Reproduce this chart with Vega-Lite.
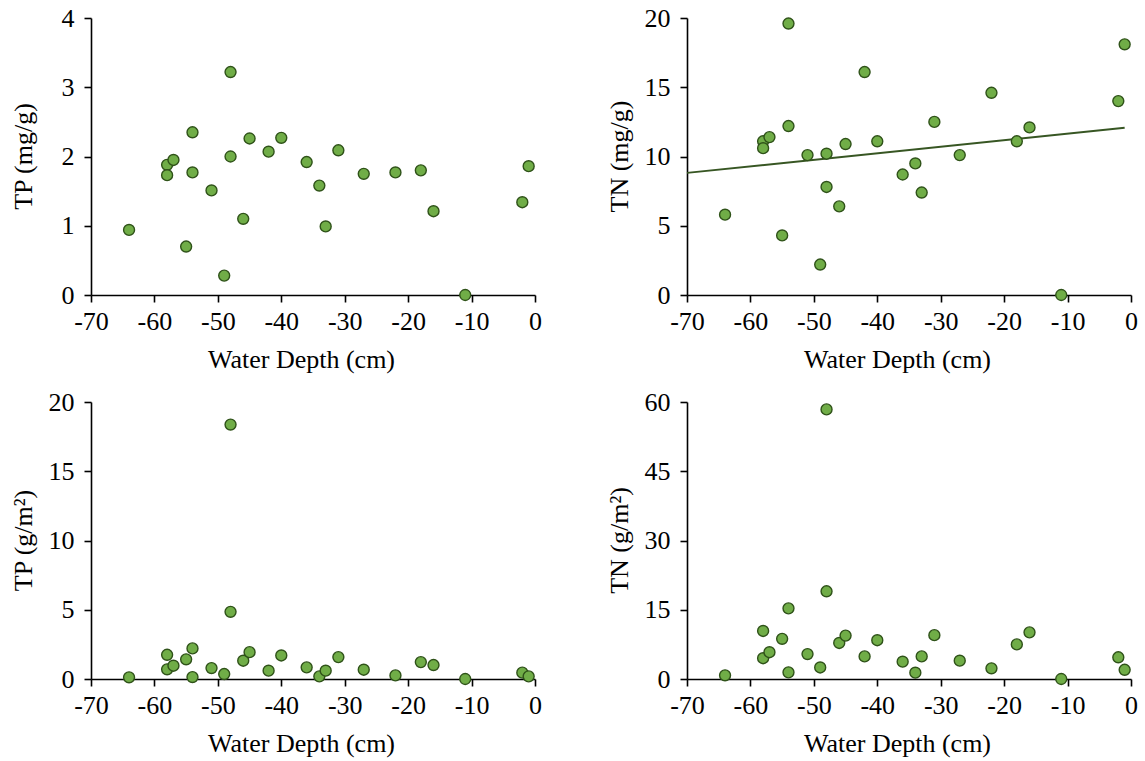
{
  "$schema": "https://vega.github.io/schema/vega-lite/v6.json",
  "background": "white",
  "padding": {"left": 10, "top": 5, "right": 10, "bottom": 5},
  "bounds": "flush",
  "columns": 2,
  "spacing": {"row": 107, "column": 152},
  "data": {"values": [
    {"depth": -64, "tp": 0.94, "tn": 5.8, "tpa": 0.12, "tna": 0.8},
    {"depth": -58, "tp": 1.88, "tn": 11.1, "tpa": 1.75, "tna": 10.4},
    {"depth": -58, "tp": 1.73, "tn": 10.6, "tpa": 0.70, "tna": 4.5},
    {"depth": -57, "tp": 1.95, "tn": 11.4, "tpa": 0.96, "tna": 5.8},
    {"depth": -55, "tp": 0.70, "tn": 4.3, "tpa": 1.42, "tna": 8.7},
    {"depth": -54, "tp": 1.77, "tn": 12.2, "tpa": 2.21, "tna": 15.3},
    {"depth": -54, "tp": 2.35, "tn": 19.6, "tpa": 0.14, "tna": 1.44},
    {"depth": -51, "tp": 1.51, "tn": 10.1, "tpa": 0.79, "tna": 5.4},
    {"depth": -49, "tp": 0.28, "tn": 2.2, "tpa": 0.36, "tna": 2.5},
    {"depth": -48, "tp": 3.22, "tn": 10.2, "tpa": 18.37, "tna": 58.4},
    {"depth": -48, "tp": 2.0, "tn": 7.8, "tpa": 4.85, "tna": 19.0},
    {"depth": -46, "tp": 1.10, "tn": 6.4, "tpa": 1.32, "tna": 7.8},
    {"depth": -45, "tp": 2.26, "tn": 10.9, "tpa": 1.94, "tna": 9.4},
    {"depth": -42, "tp": 2.07, "tn": 16.1, "tpa": 0.60, "tna": 4.9},
    {"depth": -40, "tp": 2.27, "tn": 11.1, "tpa": 1.70, "tna": 8.4},
    {"depth": -36, "tp": 1.92, "tn": 8.7, "tpa": 0.84, "tna": 3.75},
    {"depth": -34, "tp": 1.58, "tn": 9.5, "tpa": 0.19, "tna": 1.37},
    {"depth": -33, "tp": 0.99, "tn": 7.4, "tpa": 0.60, "tna": 4.9},
    {"depth": -31, "tp": 2.09, "tn": 12.5, "tpa": 1.58, "tna": 9.5},
    {"depth": -27, "tp": 1.75, "tn": 10.1, "tpa": 0.67, "tna": 3.97},
    {"depth": -22, "tp": 1.77, "tn": 14.6, "tpa": 0.26, "tna": 2.31},
    {"depth": -18, "tp": 1.80, "tn": 11.1, "tpa": 1.22, "tna": 7.5},
    {"depth": -16, "tp": 1.21, "tn": 12.1, "tpa": 1.01, "tna": 10.1},
    {"depth": -11, "tp": 0, "tn": 0, "tpa": 0, "tna": 0},
    {"depth": -2, "tp": 1.34, "tn": 14.0, "tpa": 0.46, "tna": 4.7},
    {"depth": -1, "tp": 1.86, "tn": 18.1, "tpa": 0.19, "tna": 2.0}
  ]},
  "concat": [
    {
      "width": 444, "height": 277,
      "mark": {"type": "point", "shape": "circle", "filled": true, "size": 120, "fill": "#70ad47", "stroke": "#2f5219", "strokeWidth": 1.4, "opacity": 1},
      "encoding": {
        "x": {"field": "depth", "type": "quantitative", "scale": {"domain": [-70, 0]}, "axis": {"values": [-70, -60, -50, -40, -30, -20, -10, 0], "labelExpr": "datum.value + ''", "title": "Water Depth (cm)"}},
        "y": {"field": "tp", "type": "quantitative", "scale": {"domain": [0, 4]}, "axis": {"values": [0, 1, 2, 3, 4], "title": "TP (mg/g)"}}
      }
    },
    {
      "width": 444, "height": 277,
      "layer": [
        {
          "transform": [{"regression": "tn", "on": "depth", "extent": [-70, -1]}],
          "mark": {"type": "line", "color": "#375623", "strokeWidth": 2},
          "encoding": {
            "x": {"field": "depth", "type": "quantitative"},
            "y": {"field": "tn", "type": "quantitative"}
          }
        },
        {
          "mark": {"type": "point", "shape": "circle", "filled": true, "size": 120, "fill": "#70ad47", "stroke": "#2f5219", "strokeWidth": 1.4, "opacity": 1},
          "encoding": {
            "x": {"field": "depth", "type": "quantitative"},
            "y": {"field": "tn", "type": "quantitative"}
          }
        }
      ],
      "encoding": {
        "x": {"field": "depth", "type": "quantitative", "scale": {"domain": [-70, 0]}, "axis": {"values": [-70, -60, -50, -40, -30, -20, -10, 0], "labelExpr": "datum.value + ''", "title": "Water Depth (cm)"}},
        "y": {"field": "tn", "type": "quantitative", "scale": {"domain": [0, 20]}, "axis": {"values": [0, 5, 10, 15, 20], "title": "TN (mg/g)"}}
      }
    },
    {
      "width": 444, "height": 277,
      "mark": {"type": "point", "shape": "circle", "filled": true, "size": 120, "fill": "#70ad47", "stroke": "#2f5219", "strokeWidth": 1.4, "opacity": 1},
      "encoding": {
        "x": {"field": "depth", "type": "quantitative", "scale": {"domain": [-70, 0]}, "axis": {"values": [-70, -60, -50, -40, -30, -20, -10, 0], "labelExpr": "datum.value + ''", "title": "Water Depth (cm)"}},
        "y": {"field": "tpa", "type": "quantitative", "scale": {"domain": [0, 20]}, "axis": {"values": [0, 5, 10, 15, 20], "title": "TP (g/m²)"}}
      }
    },
    {
      "width": 444, "height": 277,
      "mark": {"type": "point", "shape": "circle", "filled": true, "size": 120, "fill": "#70ad47", "stroke": "#2f5219", "strokeWidth": 1.4, "opacity": 1},
      "encoding": {
        "x": {"field": "depth", "type": "quantitative", "scale": {"domain": [-70, 0]}, "axis": {"values": [-70, -60, -50, -40, -30, -20, -10, 0], "labelExpr": "datum.value + ''", "title": "Water Depth (cm)"}},
        "y": {"field": "tna", "type": "quantitative", "scale": {"domain": [0, 60]}, "axis": {"values": [0, 15, 30, 45, 60], "title": "TN (g/m²)"}}
      }
    }
  ],
  "config": {
    "view": {"stroke": null},
    "axis": {
      "grid": false,
      "domainColor": "black",
      "domainWidth": 1.6,
      "tickColor": "black",
      "tickWidth": 1.6,
      "tickSize": 7,
      "labelFont": "Liberation Serif",
      "labelFontSize": 26,
      "labelColor": "black",
      "labelFlush": false,
      "labelOverlap": false,
      "titleFont": "Liberation Serif",
      "titleFontSize": 26,
      "titleFontWeight": "normal",
      "titleColor": "black"
    },
    "axisX": {"labelPadding": 6, "titleX": 210, "titleY": 72, "titleBaseline": "alphabetic"},
    "axisY": {"labelPadding": 10, "titleX": -60, "titleY": 138, "titleBaseline": "alphabetic", "titleAngle": -90}
  }
}
